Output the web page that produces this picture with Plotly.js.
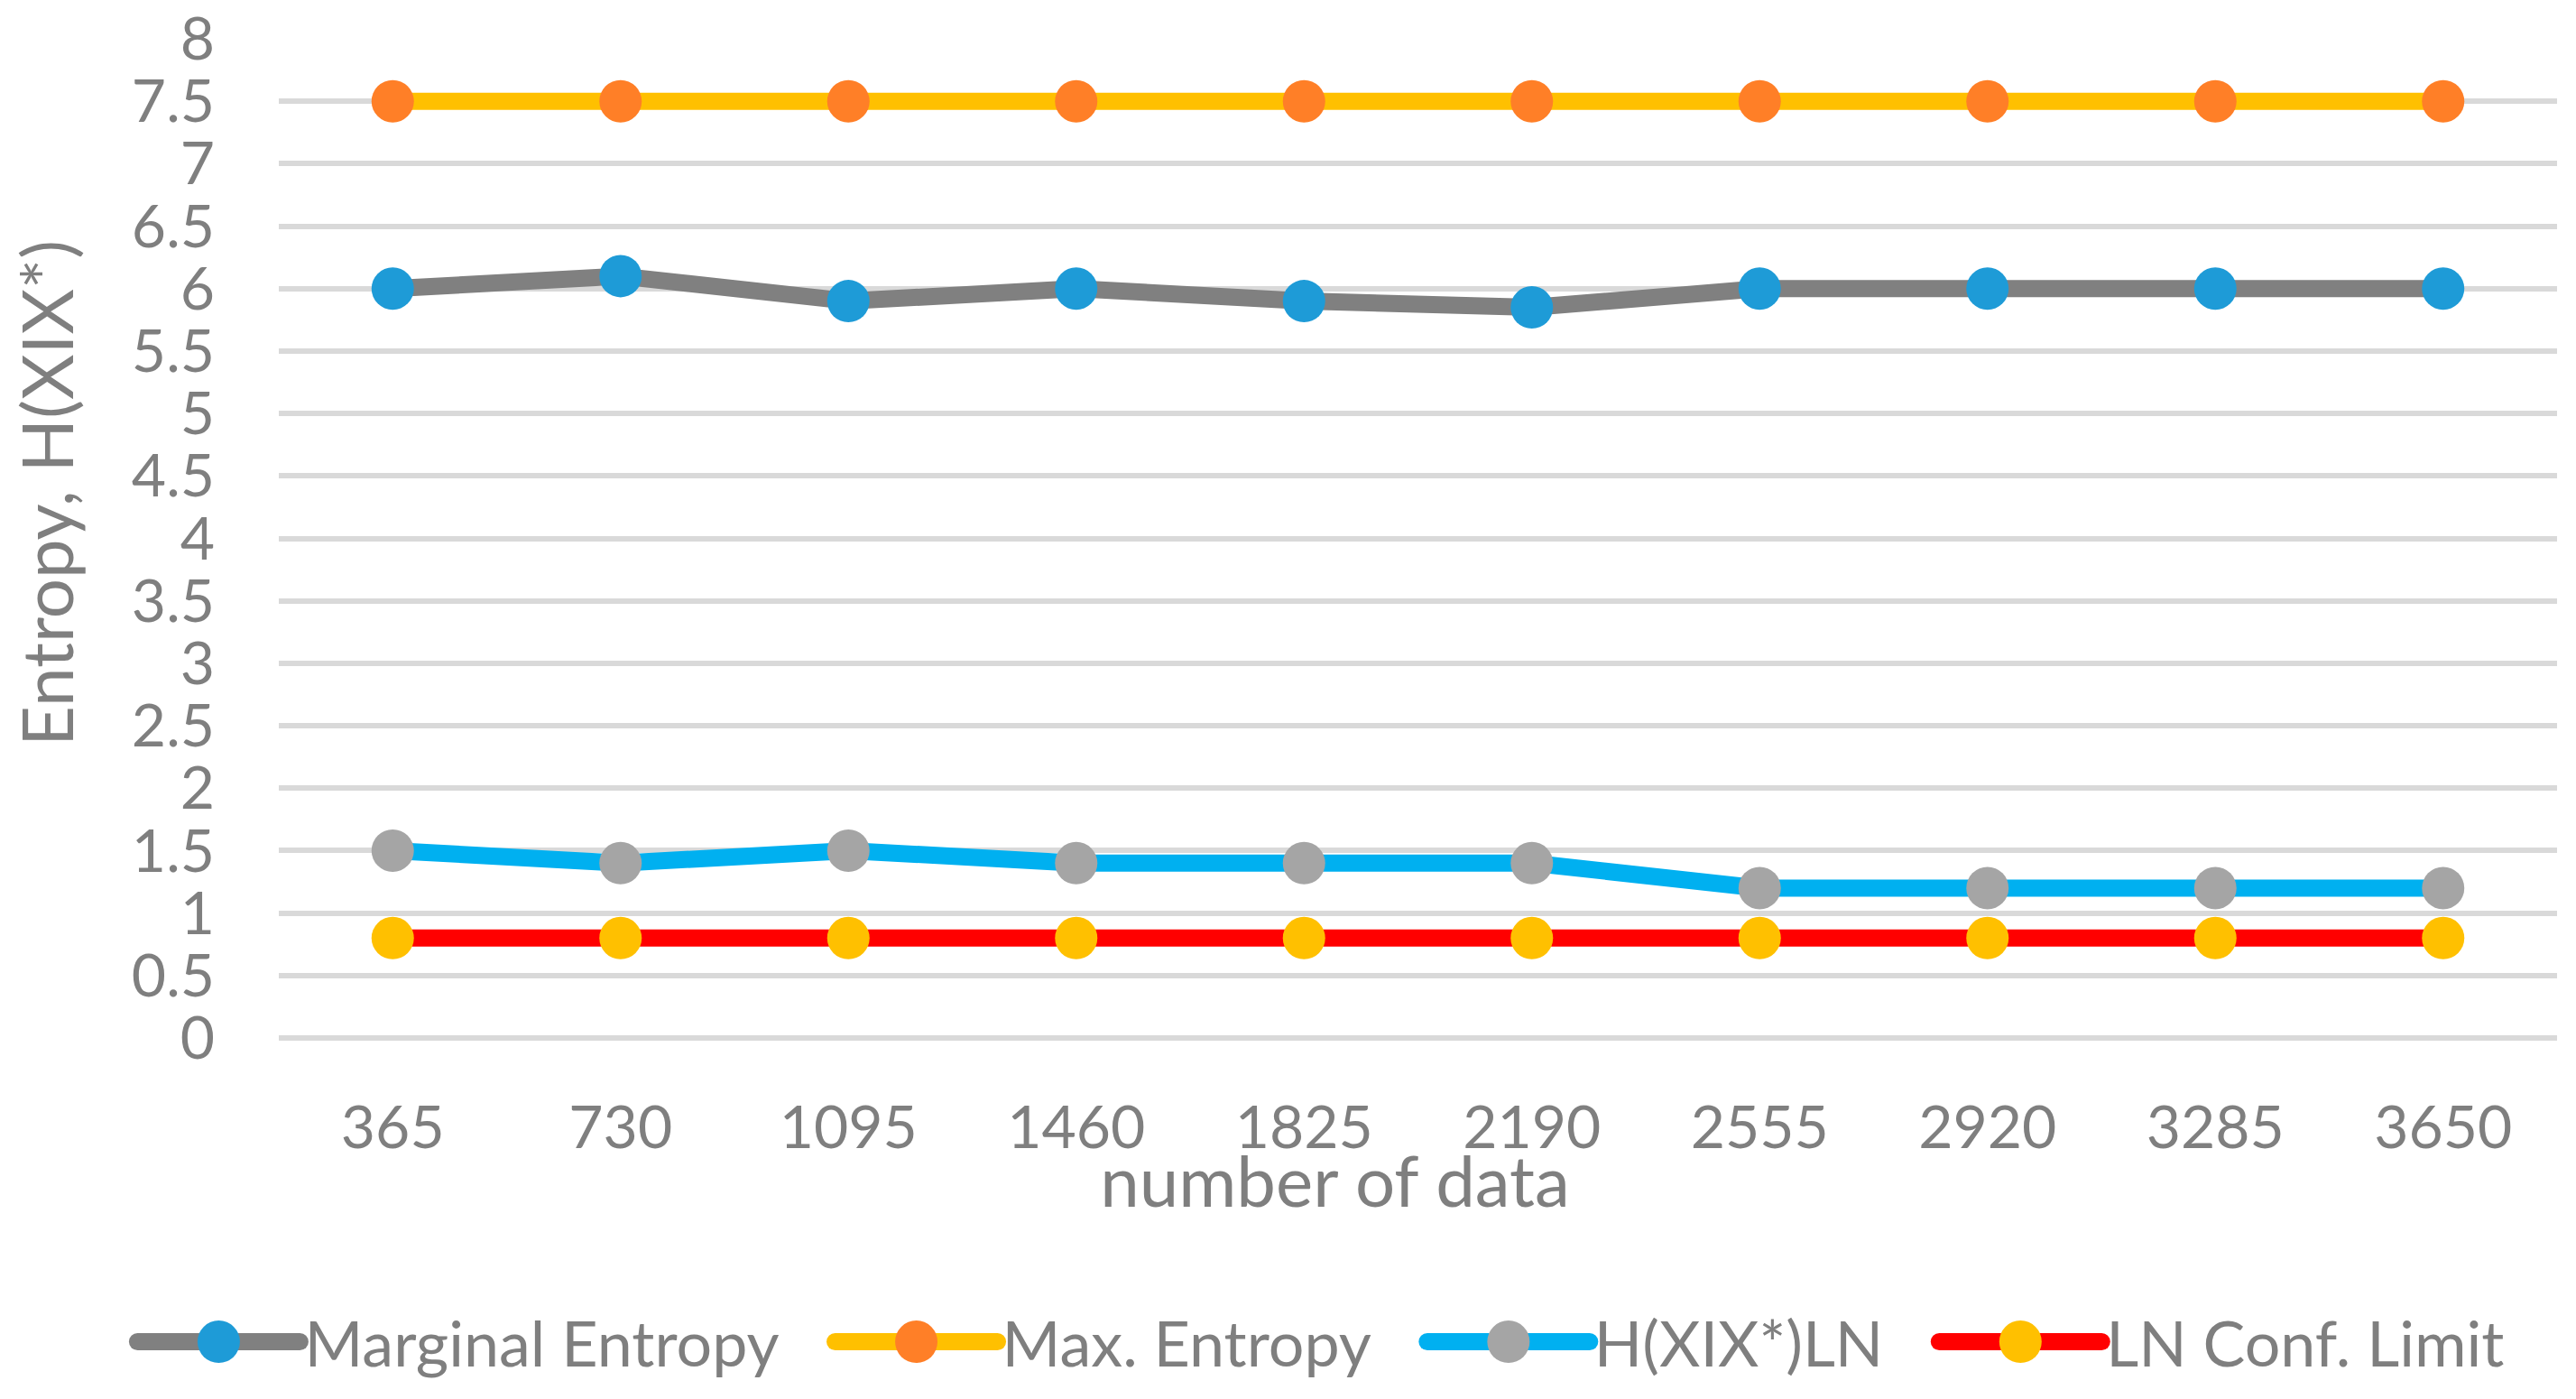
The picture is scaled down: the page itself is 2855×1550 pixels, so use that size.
<!DOCTYPE html>
<html>
<head>
<meta charset="utf-8">
<script src="https://cdn.plot.ly/plotly-3.0.1.min.js"></script>
<style>
  html, body { margin: 0; padding: 0; background: #ffffff; }
  #chart { width: 2855px; height: 1550px; }
</style>
</head>
<body>
<div id="chart"></div>
<script>
// ---- data ----
const categories = ["365", "730", "1095", "1460", "1825", "2190", "2555", "2920", "3285", "3650"];
const marginalEntropy = [6.0, 6.1, 5.9, 6.0, 5.9, 5.85, 6.0, 6.0, 6.0, 6.0];
const maxEntropy = [7.5, 7.5, 7.5, 7.5, 7.5, 7.5, 7.5, 7.5, 7.5, 7.5];
const hxxLN = [1.5, 1.4, 1.5, 1.4, 1.4, 1.4, 1.2, 1.2, 1.2, 1.2];
const lnConfLimit = [0.8, 0.8, 0.8, 0.8, 0.8, 0.8, 0.8, 0.8, 0.8, 0.8];
const seriesNames = ["Marginal Entropy", "Max. Entropy", "H(XIX*)LN", "LN Conf. Limit"];
const yTickVals = [0, 0.5, 1, 1.5, 2, 2.5, 3, 3.5, 4, 4.5, 5, 5.5, 6, 6.5, 7, 7.5, 8];
const yTickText = ["0", "0.5", "1", "1.5", "2", "2.5", "3", "3.5", "4", "4.5", "5", "5.5", "6", "6.5", "7", "7.5", "8"];

// ---- styling ----
const FONT = "Lato, 'Open Sans', sans-serif";
const TXT = "#7f7f7f";
const LW = 19;
const MS = 47;
const LEGEND_EXTRA_GAP = 52;

function series(name, y, lineColor, markerColor) {
  return {
    type: "scatter",
    mode: "lines+markers",
    name: name,
    x: categories,
    y: y,
    line: { color: lineColor, width: LW },
    marker: { color: markerColor, size: MS, line: { width: 0 } },
    hoverinfo: "x+y+name"
  };
}

const traces = [
  series(seriesNames[0], marginalEntropy, "#808080", "#1E9BD7"),
  series(seriesNames[1], maxEntropy, "#FFC000", "#FF7F27"),
  series(seriesNames[2], hxxLN, "#00B0F0", "#A5A5A5"),
  series(seriesNames[3], lnConfLimit, "#FF0000", "#FFC000")
];

const layout = {
  width: 2855,
  height: 1550,
  paper_bgcolor: "#ffffff",
  plot_bgcolor: "#ffffff",
  font: { family: FONT, color: TXT, size: 66 },
  margin: { l: 309, r: 21, t: 43, b: 394, pad: 0 },
  showlegend: true,
  legend: {
    orientation: "h",
    x: -0.064,
    xanchor: "left",
    y: -0.304,
    yanchor: "middle",
    font: { family: FONT, size: 70, color: TXT },
    itemwidth: 180,
    itemsizing: "trace",
    traceorder: "normal",
    bgcolor: "rgba(0,0,0,0)",
    borderwidth: 0
  },
  xaxis: {
    type: "category",
    range: [-0.5, 9.5],
    showgrid: false,
    zeroline: false,
    showline: false,
    ticks: "",
    tickfont: { family: FONT, size: 66, color: TXT },
    ticklabelstandoff: 55,
    title: { text: "number of data", font: { family: FONT, size: 78, color: TXT }, standoff: 0 },
    fixedrange: true
  },
  yaxis: {
    range: [0, 8],
    tickmode: "array",
    tickvals: yTickVals,
    ticktext: yTickText,
    showgrid: true,
    gridcolor: "#D9D9D9",
    gridwidth: 6,
    zeroline: true,
    zerolinecolor: "#D9D9D9",
    zerolinewidth: 6,
    showline: false,
    ticks: "",
    tickfont: { family: FONT, size: 66, color: TXT },
    ticklabelstandoff: 70,
    title: { text: "Entropy, H(XIX*)", font: { family: FONT, size: 78, color: TXT }, standoff: 0 },
    fixedrange: true
  }
};

function shiftEl(el, dx, dy) {
  if (!el) return;
  const tr = el.getAttribute("transform") || "";
  el.setAttribute("transform", "translate(" + dx + "," + dy + ") " + tr);
}

function finishLayout(gd) {
  // legend: bigger symbols like the reference, wider spacing between entries
  const scroll = gd.querySelector("g.legend .scrollbox");
  if (scroll) scroll.removeAttribute("clip-path");
  const items = gd.querySelectorAll("g.legend g.traces");
  items.forEach(function (g, i) {
    const ln = g.querySelector("path.js-line");
    if (ln) {
      ln.style.strokeWidth = LW + "px";
      ln.style.strokeLinecap = "round";
    }
    const pts = g.querySelectorAll("g.legendpoints path.scatterpts");
    pts.forEach(function (p) {
      const r = MS / 2;
      p.setAttribute("d", "M" + r + ",0A" + r + "," + r + " 0 1,1 0,-" + r + "A" + r + "," + r + " 0 0,1 " + r + ",0Z");
    });
    const tr = g.getAttribute("transform") || "";
    const m = tr.match(/translate\(\s*([-\d.]+)[ ,]+([-\d.]+)\s*\)/);
    if (m) {
      const nx = parseFloat(m[1]) + i * LEGEND_EXTRA_GAP;
      g.setAttribute("transform", "translate(" + nx + "," + m[2] + ")");
    }
  });
  // axis titles: nudge to the reference placement
  shiftEl(gd.querySelector("text.xtitle"), -92, -26);
  shiftEl(gd.querySelector("text.ytitle"), -38, -50);
}

Plotly.newPlot("chart", traces, layout, { displayModeBar: false, responsive: false })
  .then(function (gd) { finishLayout(gd); });
</script>
</body>
</html>
